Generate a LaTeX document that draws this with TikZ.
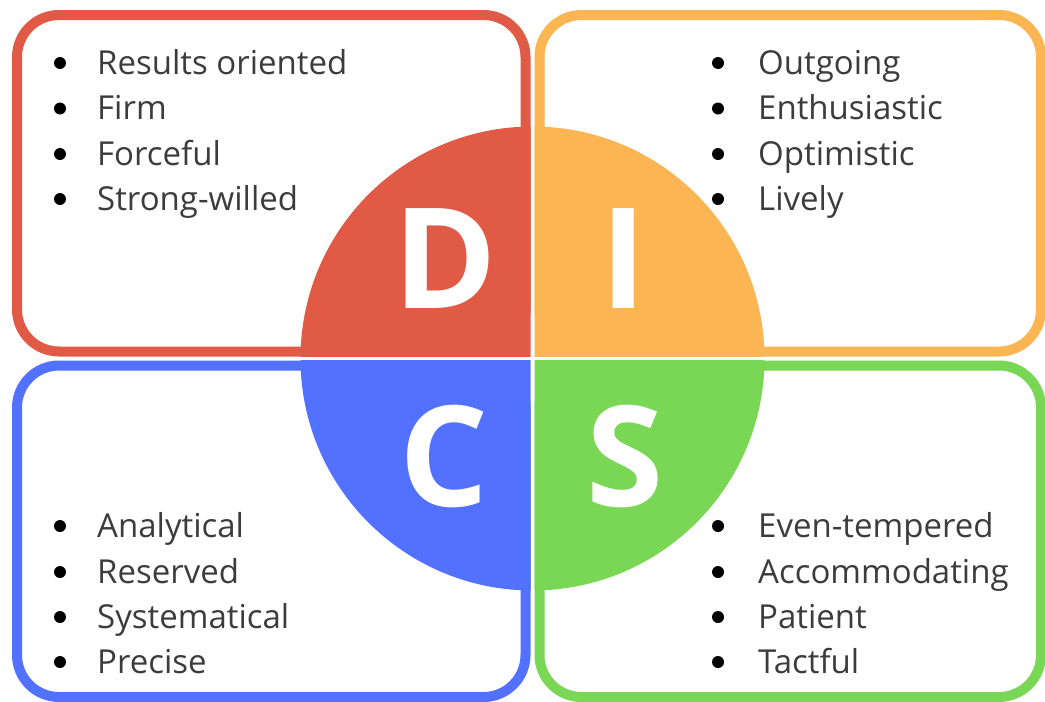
\documentclass[tikz,border=0pt]{standalone}
\usepackage{fontspec}
\setmainfont{Open Sans}
\definecolor{dred}{HTML}{E05A45}
\definecolor{dorange}{HTML}{FBB553}
\definecolor{dblue}{HTML}{5271FF}
\definecolor{dgreen}{HTML}{7AD756}
\definecolor{txt}{HTML}{3C3C3C}
\begin{document}
\begin{tikzpicture}[x=1pt,y=-1pt,
  frame/.style={line width=10pt, rounded corners=42pt, fill=white},
  letter/.style={text=white, font=\fontsize{140}{140}\selectfont\bfseries, anchor=base, inner sep=0pt},
  item/.style={text=txt, font=\fontsize{33}{40}\selectfont, anchor=base west, inner sep=0pt},
  dot/.style={circle, fill=black, inner sep=0pt, minimum size=12pt}]
\useasboundingbox (0,0) rectangle (1045,702);
\fill[white] (0,0) rectangle (1045,702);
% frames
\draw[frame, draw=dred] (17,15) rectangle (525.5,351.5);
\draw[frame, draw=dorange] (539.5,15) rectangle (1041,351.5);
\draw[frame, draw=dblue] (17,365.5) rectangle (525.5,697);
\draw[frame, draw=dgreen] (539.5,365.5) rectangle (1041,697);
% quarter discs
\coordinate (ctr) at (532.5,358.5);
\begin{scope}
  \clip (0,0) rectangle (530.5,356.5);
  \fill[dred] (ctr) circle (232);
\end{scope}
\begin{scope}
  \clip (534.5,0) rectangle (1045,356.5);
  \fill[dorange] (ctr) circle (232);
\end{scope}
\begin{scope}
  \clip (0,360.5) rectangle (530.5,702);
  \fill[dblue] (ctr) circle (232);
\end{scope}
\begin{scope}
  \clip (534.5,360.5) rectangle (1045,702);
  \fill[dgreen] (ctr) circle (232);
\end{scope}
% letters
\node[letter] (D) at (445,308) {D};
\node[letter] (I) at (624,308) {I};
\node[letter] (C) at (444,506) {C};
\node[letter] (S) at (625,506) {S};
% D list
\node[dot] (db1) at (60,63) {};
\node[dot] (db2) at (60,108.5) {};
\node[dot] (db3) at (60,154) {};
\node[dot] (db4) at (60,199) {};
\node[item] (dt1) at (97,74) {Results oriented};
\node[item] (dt2) at (97,119.5) {Firm};
\node[item] (dt3) at (97,165) {Forceful};
\node[item] (dt4) at (97,210) {Strong-willed};
% I list
\node[dot] (ib1) at (718,63) {};
\node[dot] (ib2) at (718,108.5) {};
\node[dot] (ib3) at (718,154) {};
\node[dot] (ib4) at (718,199) {};
\node[item] (it1) at (758,74) {Outgoing};
\node[item] (it2) at (758,119.5) {Enthusiastic};
\node[item] (it3) at (758,165) {Optimistic};
\node[item] (it4) at (758,210) {Lively};
% C list
\node[dot] (cb1) at (60,526) {};
\node[dot] (cb2) at (60,572) {};
\node[dot] (cb3) at (60,617) {};
\node[dot] (cb4) at (60,662) {};
\node[item] (ct1) at (97,537) {Analytical};
\node[item] (ct2) at (97,583) {Reserved};
\node[item] (ct3) at (97,628) {Systematical};
\node[item] (ct4) at (97,673) {Precise};
% S list
\node[dot] (sb1) at (718,526) {};
\node[dot] (sb2) at (718,572) {};
\node[dot] (sb3) at (718,617) {};
\node[dot] (sb4) at (718,662) {};
\node[item] (st1) at (758,537) {Even-tempered};
\node[item] (st2) at (758,583) {Accommodating};
\node[item] (st3) at (758,628) {Patient};
\node[item] (st4) at (758,673) {Tactful};
\end{tikzpicture}
\end{document}
